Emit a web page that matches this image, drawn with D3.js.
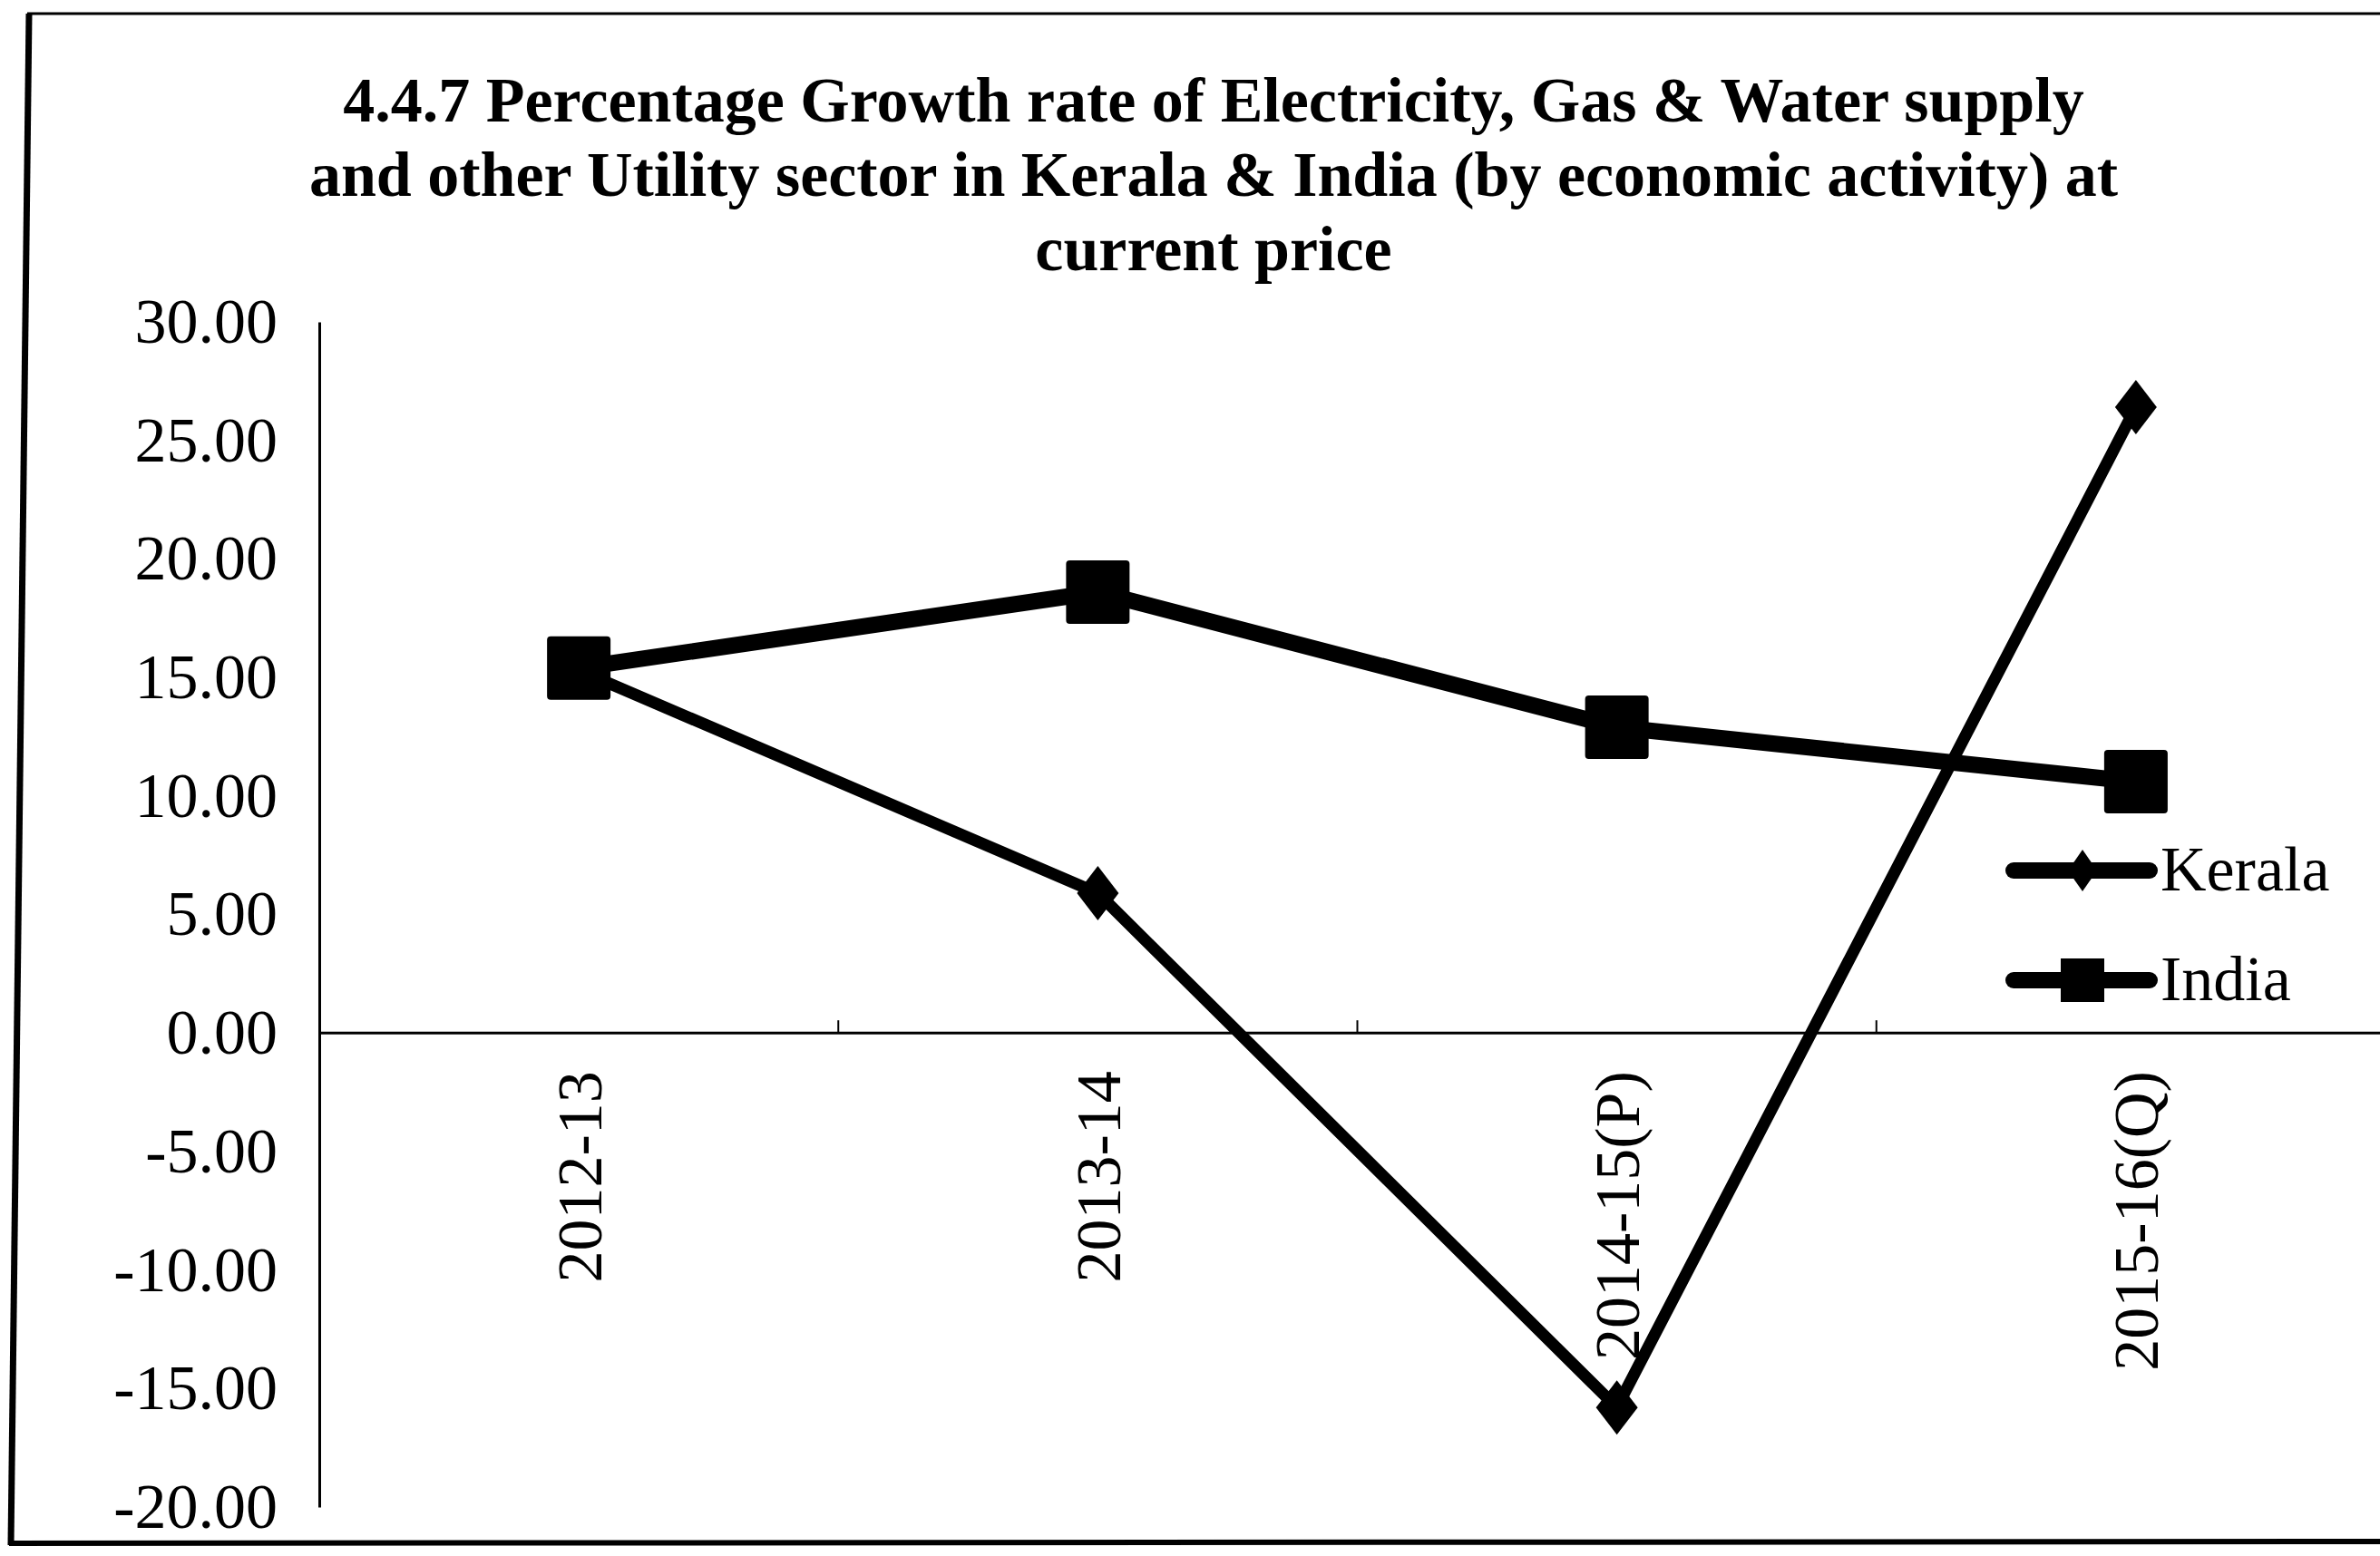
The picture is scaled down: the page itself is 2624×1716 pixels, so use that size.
<!DOCTYPE html>
<html>
<head>
<meta charset="utf-8">
<script src="https://cdn.jsdelivr.net/npm/d3@7"></script>
<style>
  body { margin: 0; background: #fff; }
  svg { display: block; }
  text { font-family: "Liberation Serif", "Times New Roman", serif; fill: #000; }
</style>
</head>
<body>
<div id="chart"></div>
<script>
// chart data
var categories = ['2012-13', '2013-14', '2014-15(P)', '2015-16(Q)'];
var kerala = [15.3, 5.9, -15.8, 26.4];
var india = [15.4, 18.6, 12.9, 10.6];
var yTicks = [30, 25, 20, 15, 10, 5, 0, -5, -10, -15, -20];
var titleLines = [
  '4.4.7 Percentage Growth rate of Electricity, Gas & Water supply',
  'and other Utility sector in Kerala & India (by economic activity) at',
  'current price'
];
var seriesNames = ['Kerala', 'India'];

var width = 2624,
  height = 1716,
  plot = {left: 352, right: 2641, top: 355, bottom: 1662};

var svg = d3.select('#chart')
  .append('svg')
  .attr('width', width)
  .attr('height', height);

// outer frame - right side is cut off in the scan
svg.append('line')
  .attr('x1', 30).attr('y1', 15).attr('x2', 2624).attr('y2', 15)
  .style('stroke', '#000').style('stroke-width', 3);
svg.append('line')
  .attr('x1', 32).attr('y1', 15).attr('x2', 12).attr('y2', 1704)
  .style('stroke', '#000').style('stroke-width', 7);
svg.append('line')
  .attr('x1', 10).attr('y1', 1702).attr('x2', 2624).attr('y2', 1700)
  .style('stroke', '#000').style('stroke-width', 6);

// title
svg.append('g').selectAll('text')
  .data(titleLines)
  .enter()
  .append('text')
  .attr('x', 1338)
  .attr('y', function(d, i) { return 134 + i * 82; })
  .attr('text-anchor', 'middle')
  .style('font-size', '70px')
  .style('font-weight', 'bold')
  .text(function(d) { return d; });

var x = d3.scaleBand()
  .domain(categories)
  .range([plot.left, plot.right]);

var y = d3.scaleLinear()
  .domain([-20, 30])
  .range([plot.bottom, plot.top]);

// y axis
var yAxis = d3.axisLeft(y)
  .tickValues(yTicks)
  .tickSize(0)
  .tickPadding(46)
  .tickFormat(d3.format('.2f'));

var gy = svg.append('g')
  .attr('transform', 'translate(' + plot.left + ',0)')
  .call(yAxis);
gy.select('.domain').style('stroke', '#000').style('stroke-width', 3);
gy.selectAll('text')
  .style('font-size', '70px')
  .style('font-family', '"Liberation Serif", serif')
  .text(function(d) { return d3.format('.2f')(d).replace('−', '-'); });

// x axis at zero
var x0 = y(0);
svg.append('line')
  .attr('x1', plot.left).attr('x2', width)
  .attr('y1', x0).attr('y2', x0)
  .style('stroke', '#000')
  .style('stroke-width', 3);

// category boundary ticks
svg.append('g').selectAll('line')
  .data(categories.slice(1))
  .enter()
  .append('line')
  .attr('x1', function(d) { return x(d); })
  .attr('x2', function(d) { return x(d); })
  .attr('y1', x0)
  .attr('y2', x0 - 14)
  .style('stroke', '#000')
  .style('stroke-width', 2);

// rotated category labels
svg.append('g').selectAll('text')
  .data(categories)
  .enter()
  .append('text')
  .attr('transform', function(d) {
    return 'translate(' + (x(d) + x.bandwidth() / 2) + ',' + (x0 + 42) + ') rotate(-90)';
  })
  .attr('text-anchor', 'end')
  .attr('dy', '0.35em')
  .style('font-size', '70px')
  .text(function(d) { return d; });

var cx = function(d, i) { return x(categories[i]) + x.bandwidth() / 2; };
var line = d3.line()
  .x(cx)
  .y(function(d) { return y(d); });

var diamond = function(w, h) {
  return 'M0,' + (-h / 2) + 'L' + (w / 2) + ',0L0,' + (h / 2) + 'L' + (-w / 2) + ',0Z';
};

// India series
svg.append('path')
  .datum(india)
  .attr('d', line)
  .style('fill', 'none')
  .style('stroke', '#000')
  .style('stroke-width', 18)
  .style('stroke-linejoin', 'round');

svg.append('g').selectAll('rect')
  .data(india)
  .enter()
  .append('rect')
  .attr('x', function(d, i) { return cx(d, i) - 35; })
  .attr('y', function(d) { return y(d) - 35; })
  .attr('width', 70)
  .attr('height', 70)
  .attr('rx', 4)
  .style('fill', '#000');

// Kerala series
svg.append('path')
  .datum(kerala)
  .attr('d', line)
  .style('fill', 'none')
  .style('stroke', '#000')
  .style('stroke-width', 13)
  .style('stroke-linejoin', 'round');

svg.append('g').selectAll('path')
  .data(kerala)
  .enter()
  .append('path')
  .attr('transform', function(d, i) { return 'translate(' + cx(d, i) + ',' + y(d) + ')'; })
  .attr('d', diamond(46, 60))
  .style('fill', '#000');

// legend
var legend = svg.append('g')
  .selectAll('g')
  .data(seriesNames)
  .enter()
  .append('g')
  .attr('transform', function(d, i) { return 'translate(2220,' + (960 + i * 121) + ')'; });

legend.append('line')
  .attr('x1', 0).attr('x2', 150)
  .attr('y1', 0).attr('y2', 0)
  .style('stroke', '#000')
  .style('stroke-width', 18)
  .style('stroke-linecap', 'round');

legend.append('path')
  .attr('transform', 'translate(76,0)')
  .attr('d', function(d) {
    return d === 'Kerala' ? diamond(32, 46) : 'M-24,-24H24V24H-24Z';
  })
  .style('fill', '#000');

legend.append('text')
  .attr('x', 162)
  .attr('y', 22)
  .style('font-size', '70px')
  .text(function(d) { return d; });
</script>
</body>
</html>
